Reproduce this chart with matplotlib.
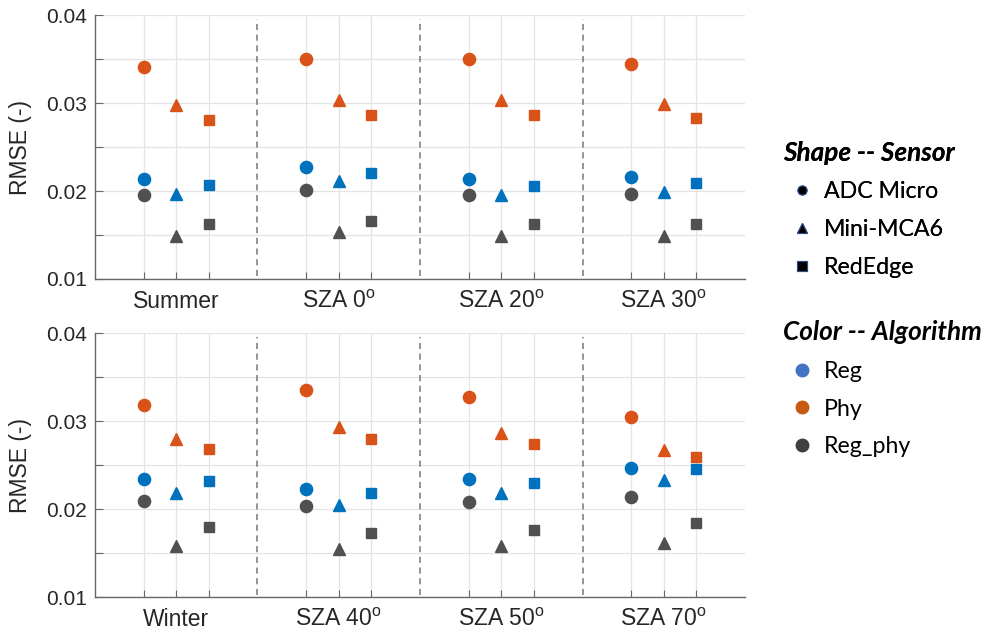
import numpy as np
import matplotlib.pyplot as plt
from matplotlib.lines import Line2D

plt.rcParams['font.family'] = 'Liberation Sans'
plt.rcParams['mathtext.fontset'] = 'custom'
plt.rcParams['mathtext.rm'] = 'Liberation Sans'

sensors = ['ADC Micro', 'Mini-MCA6', 'RedEdge']
algos = ['Reg', 'Phy', 'Reg_phy']
groups_top = ['Summer', 'SZA 0$^{\\rm o}$', 'SZA 20$^{\\rm o}$', 'SZA 30$^{\\rm o}$']
groups_bot = ['Winter', 'SZA 40$^{\\rm o}$', 'SZA 50$^{\\rm o}$', 'SZA 70$^{\\rm o}$']

# rows = groups, columns = sensors (ADC Micro, Mini-MCA6, RedEdge)
reg_top = [[0.0214, 0.0197, 0.0207], [0.0227, 0.0211, 0.0220],
           [0.0214, 0.0195, 0.0206], [0.0216, 0.0199, 0.0209]]
phy_top = [[0.0341, 0.0298, 0.0281], [0.0350, 0.0303, 0.0287],
           [0.0350, 0.0304, 0.0286], [0.0344, 0.0299, 0.0283]]
regphy_top = [[0.0196, 0.0149, 0.0163], [0.0201, 0.0153, 0.0166],
              [0.0196, 0.0149, 0.0162], [0.0197, 0.0149, 0.0163]]

reg_bot = [[0.0235, 0.0219, 0.0232], [0.0223, 0.0205, 0.0218],
           [0.0234, 0.0218, 0.0230], [0.0247, 0.0233, 0.0246]]
phy_bot = [[0.0319, 0.0280, 0.0269], [0.0336, 0.0294, 0.0280],
           [0.0328, 0.0287, 0.0274], [0.0305, 0.0267, 0.0260]]
regphy_bot = [[0.0209, 0.0158, 0.0180], [0.0204, 0.0155, 0.0173],
              [0.0208, 0.0158, 0.0177], [0.0214, 0.0162, 0.0184]]

colors = {'Reg': '#0072BD', 'Phy': '#D95319', 'Reg_phy': '#505050'}
leg_colors = {'Reg': '#4472C4', 'Phy': '#C55A11', 'Reg_phy': '#404040'}
markers = ['o', '^', 's']
msizes = [8.8, 9, 7.2]

fig = plt.figure(figsize=(9.82, 6.34), dpi=100)
ax_top = fig.add_axes([0.0967, 0.560, 0.662, 0.416])
ax_bot = fig.add_axes([0.0967, 0.058, 0.662, 0.416])


def draw_panel(ax, groups, data):
    ng = len(groups)
    xpos = np.array([[5 * g + s + 1 for s in range(3)] for g in range(ng)])
    for algo in algos:
        vals = np.array(data[algo])
        for s in range(3):
            ax.plot(xpos[:, s], vals[:, s], linestyle='none', marker=markers[s],
                    ms=msizes[s], color=colors[algo], mec=colors[algo], zorder=3)
    for g in range(ng - 1):
        ax.axvline(5 * g + 4.5, ymin=0.01, ymax=0.985, color='#777777',
                   ls=(0, (4, 3)), lw=1.1, zorder=2)
    ax.set_xlim(-0.5, 5 * ng - 0.5)
    ax.set_ylim(0.01, 0.04)
    ticks = xpos.ravel()
    labels = []
    for g in range(ng):
        labels += ['', groups[g], '']
    ax.set_xticks(ticks)
    ax.set_xticklabels(labels)
    yt = np.arange(0.01, 0.0401, 0.005)
    ax.set_yticks(yt)
    ax.set_yticklabels(['%.2f' % v if i % 2 == 0 else '' for i, v in enumerate(yt)])
    ax.grid(True, color='#e4e4e4', lw=0.9, zorder=0)
    ax.set_axisbelow(True)
    for sp in ['top', 'right']:
        ax.spines[sp].set_visible(False)
    for sp in ['left', 'bottom']:
        ax.spines[sp].set_color('#666666')
        ax.spines[sp].set_linewidth(1.0)
    ax.tick_params(axis='y', direction='in', length=6, labelsize=15,
                   colors='#666666', labelcolor='#262626', pad=6)
    ax.tick_params(axis='x', direction='in', length=5, labelsize=16.5,
                   colors='#666666', labelcolor='#262626', pad=8)
    ax.set_ylabel('RMSE (-)', fontsize=16.5, color='#262626', labelpad=10)


draw_panel(ax_top, groups_top, {'Reg': reg_top, 'Phy': phy_top, 'Reg_phy': regphy_top})
draw_panel(ax_bot, groups_bot, {'Reg': reg_bot, 'Phy': phy_bot, 'Reg_phy': regphy_bot})

leg_font = {'family': 'Lato', 'size': 16.7}
title_font = {'family': 'Lato', 'size': 18.8, 'weight': 'bold', 'style': 'italic'}

shape_handles = [Line2D([], [], ls='none', marker=m, ms=6.5, color='black',
                        mec='#2F4B8A', mew=0.8) for m in markers]
leg1 = fig.legend(shape_handles, sensors, title='Shape -- Sensor', loc='upper left',
                  bbox_to_anchor=(0.797, 0.778), frameon=False, prop=leg_font,
                  title_fontproperties=title_font, alignment='left',
                  handlelength=1.64, handletextpad=0.15, labelspacing=0.72,
                  borderaxespad=0, borderpad=0)
color_handles = [Line2D([], [], ls='none', marker='o', ms=9, color=leg_colors[a])
                 for a in algos]
leg2 = fig.legend(color_handles, algos, title='Color -- Algorithm', loc='upper left',
                  bbox_to_anchor=(0.797, 0.495), frameon=False, prop=leg_font,
                  title_fontproperties=title_font, alignment='left',
                  handlelength=1.64, handletextpad=0.15, labelspacing=0.72,
                  borderaxespad=0, borderpad=0)
fig.add_artist(leg1)

fig.savefig('out.png', dpi=100)
